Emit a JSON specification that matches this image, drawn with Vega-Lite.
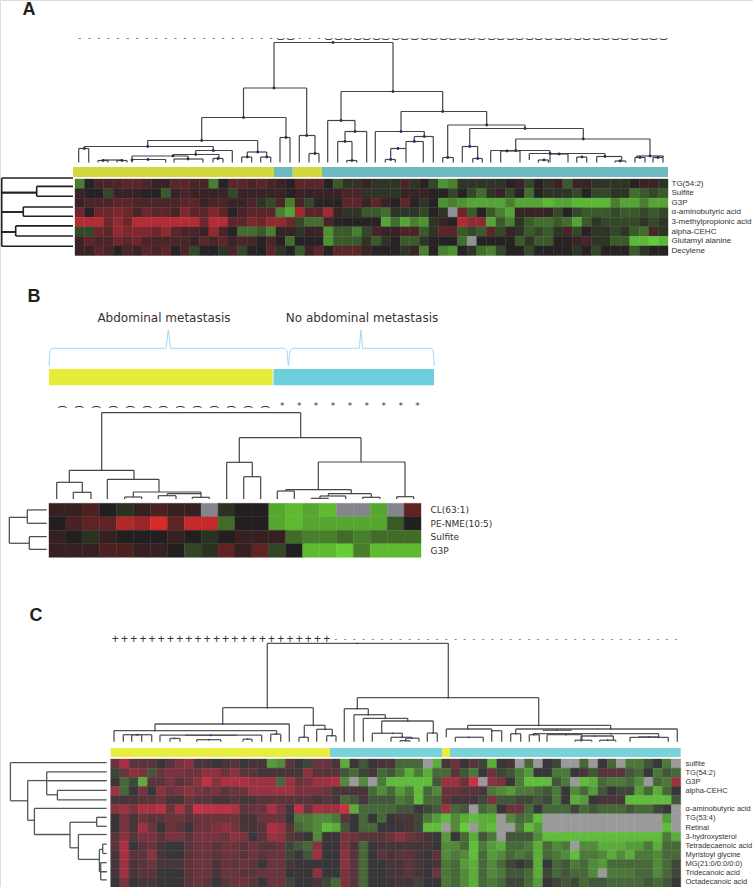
{"$schema":"https://vega.github.io/schema/vega-lite/v6.json","width":753,"height":887,"padding":0,"autosize":{"type":"none"},"background":"white","resolve":{"scale":{"x":"independent","y":"independent","color":"independent","stroke":"independent"},"axis":{"x":"independent","y":"independent"}},"layer":[
{"data":{"values":[{"t":"A","p":-46,"h":153}]},"mark":{"type":"text","font":"Liberation Sans","fontWeight":"bold","fontSize":18,"baseline":"middle","color":"#231f20"},"encoding":{"text":{"field":"t"},"x":{"field":"p","type":"quantitative","scale":{"domain":[0,593],"range":[75,668]},"axis":null},"y":{"field":"h","type":"quantitative","scale":{"domain":[0,120],"range":[162.5,42.5]},"axis":null}}},
{"data":{"values":[{"t":"B","p":-15,"h":202.5}]},"mark":{"type":"text","font":"Liberation Sans","fontWeight":"bold","fontSize":18,"baseline":"middle","color":"#231f20"},"encoding":{"text":{"field":"t"},"x":{"field":"p","type":"quantitative","scale":{"domain":[0,372],"range":[49,421]},"axis":null},"y":{"field":"h","type":"quantitative","scale":{"domain":[0,100],"range":[499,399]},"axis":null}}},
{"data":{"values":[{"t":"C","p":-74.7,"h":126.2}]},"mark":{"type":"text","font":"Liberation Sans","fontWeight":"bold","fontSize":18,"baseline":"middle","color":"#231f20"},"encoding":{"text":{"field":"t"},"x":{"field":"p","type":"quantitative","scale":{"domain":[0,570],"range":[110.7,680.7]},"axis":null},"y":{"field":"h","type":"quantitative","scale":{"domain":[0,100],"range":[741.7,641.7]},"axis":null}}},
{"data":{"values":[{"a":0,"b":201,"g":"y"},{"a":201,"b":219.7,"g":"t"},{"a":219.7,"b":249,"g":"y"},{"a":249,"b":595,"g":"t"}]},"mark":"rect","encoding":{"x":{"field":"a","type":"quantitative","scale":{"domain":[0,595],"range":[73,668]},"axis":null},"x2":{"field":"b"},"y":{"datum":0,"type":"quantitative","scale":{"domain":[0,1],"range":[177,167]},"axis":null},"y2":{"datum":1},"color":{"field":"g","scale":{"domain":["y","t"],"range":["#d2d840","#6fb9c2"]},"legend":null}}},
{"data":{"values":[{"a":0,"b":223.7,"g":"y"},{"a":224.5,"b":385,"g":"t"}]},"mark":"rect","encoding":{"x":{"field":"a","type":"quantitative","scale":{"domain":[0,385],"range":[49,434]},"axis":null},"x2":{"field":"b"},"y":{"datum":0,"type":"quantitative","scale":{"domain":[0,1],"range":[385.3,369]},"axis":null},"y2":{"datum":1},"color":{"field":"g","scale":{"domain":["y","t"],"range":["#e6ec37","#6ecfdc"]},"legend":null}}},
{"data":{"values":[{"a":0,"b":219.3,"g":"y"},{"a":219.3,"b":331.3,"g":"t"},{"a":331.3,"b":339.3,"g":"y"},{"a":339.3,"b":570,"g":"t"}]},"mark":"rect","encoding":{"x":{"field":"a","type":"quantitative","scale":{"domain":[0,570],"range":[110.7,680.7]},"axis":null},"x2":{"field":"b"},"y":{"datum":0,"type":"quantitative","scale":{"domain":[0,1],"range":[757,748]},"axis":null},"y2":{"datum":1},"color":{"field":"g","scale":{"domain":["y","t"],"range":["#e8ee40","#78d4da"]},"legend":null}}},
{"data":{"values":[{"b":"a","x":0,"y":3},{"b":"a","x":1,"y":18},{"b":"a","x":2.7,"y":20.7},{"b":"a","x":117,"y":20.7},{"b":"a","x":119.3,"y":39},{"b":"a","x":121.7,"y":20.7},{"b":"a","x":236,"y":20.7},{"b":"a","x":238,"y":18},{"b":"a","x":239.3,"y":3},{"b":"b","x":239.3,"y":3},{"b":"b","x":241,"y":18},{"b":"b","x":243,"y":20.7},{"b":"b","x":310.3,"y":20.7},{"b":"b","x":312,"y":39},{"b":"b","x":313.7,"y":20.7},{"b":"b","x":382.7,"y":20.7},{"b":"b","x":384.3,"y":18},{"b":"b","x":385.3,"y":3}]},"mark":{"type":"line","stroke":"#a9d6f2","strokeWidth":1},"encoding":{"x":{"field":"x","type":"quantitative","scale":{"domain":[0,385],"range":[49,434]},"axis":null},"y":{"field":"y","type":"quantitative","scale":{"domain":[0,60],"range":[369,309]},"axis":null},"detail":{"field":"b"}}},
{"data":{"values":[{"t":"Abdominal metastasis","x":115,"y":51},{"t":"No abdominal metastasis","x":313,"y":51}]},"mark":{"type":"text","font":"DejaVu Sans","fontSize":12,"baseline":"middle","color":"#333333"},"encoding":{"text":{"field":"t"},"x":{"field":"x","type":"quantitative","scale":{"domain":[0,385],"range":[49,434]},"axis":null},"y":{"field":"y","type":"quantitative","scale":{"domain":[0,60],"range":[369,309]},"axis":null}}},
{"data":{"values":[{"l":199,"r":318,"h":120,"hl":74.5,"hr":71,"m":258},{"l":168.5,"r":231.7,"h":74.5,"hl":45,"hr":27,"m":199},{"l":126.7,"r":211,"h":45,"hl":22,"hr":25,"m":168.5},{"l":72.7,"r":182.7,"h":22,"hl":16,"hr":10.5,"m":126.7},{"l":9.3,"r":138.3,"h":16,"hl":14,"hr":12,"m":72.7},{"l":3.7,"r":13.7,"h":14,"hl":0,"hr":0,"m":9.3},{"l":120.7,"r":157.3,"h":12,"hl":8,"hr":0,"m":138.3},{"l":98.3,"r":144,"h":8,"hl":6.5,"hr":4,"m":120.7},{"l":57,"r":113,"h":6.5,"hl":3,"hr":3.5,"m":98},{"l":23,"r":33,"h":2,"hl":0,"hr":0,"m":28},{"l":42,"r":52,"h":2,"hl":0,"hr":0,"m":47},{"l":28,"r":47,"h":2.5,"hl":2,"hr":2,"m":57},{"l":57,"r":90.7,"h":3,"hl":0,"hr":0,"m":73},{"l":99,"r":128,"h":3.5,"hl":0,"hr":0,"m":113},{"l":138,"r":148,"h":4,"hl":0,"hr":0,"m":143},{"l":172.3,"r":191.7,"h":10.5,"hl":5.5,"hr":5.5,"m":182.7},{"l":166.7,"r":176.7,"h":5.5,"hl":0,"hr":0,"m":172.3},{"l":185.7,"r":195.7,"h":5.5,"hl":0,"hr":0,"m":191.7},{"l":205,"r":215,"h":25,"hl":0,"hr":0,"m":211},{"l":224.3,"r":240,"h":27,"hl":0,"hr":9,"m":231.7},{"l":234,"r":244,"h":9,"hl":0,"hr":0,"m":240},{"l":266,"r":367.7,"h":71,"hl":42,"hr":51,"m":318},{"l":252.7,"r":280,"h":42,"hl":0,"hr":31,"m":266},{"l":270,"r":291.7,"h":31,"hl":21,"hr":0,"m":280},{"l":262.7,"r":277,"h":21,"hl":0,"hr":2,"m":270},{"l":271.7,"r":281.7,"h":2,"hl":0,"hr":0,"m":277},{"l":326,"r":411.7,"h":51,"hl":31,"hr":37.5,"m":367.7},{"l":300.3,"r":349.3,"h":31,"hl":0,"hr":26,"m":326},{"l":339.3,"r":358.3,"h":26,"hl":21,"hr":0,"m":349.3},{"l":331,"r":348.3,"h":21,"hl":14,"hr":0,"m":339.3},{"l":315.7,"r":331,"h":14,"hl":3,"hr":0,"m":323},{"l":310.3,"r":320.3,"h":3,"hl":0,"hr":0,"m":315.7},{"l":372.7,"r":450,"h":37.5,"hl":5,"hr":34,"m":411.7},{"l":367.7,"r":378.3,"h":5,"hl":0,"hr":0,"m":372.7},{"l":394.7,"r":508.3,"h":34,"hl":16,"hr":23.5,"m":450},{"l":387.3,"r":402.7,"h":16,"hl":0,"hr":4,"m":394.7},{"l":397.7,"r":407.3,"h":4,"hl":0,"hr":0,"m":402.7},{"l":440.7,"r":575,"h":23.5,"hl":12,"hr":6.5,"m":508.3},{"l":415.7,"r":475,"h":12,"hl":0,"hr":9,"m":440.7},{"l":454.3,"r":530,"h":9,"hl":2.5,"hr":6,"m":475},{"l":463.3,"r":473.3,"h":2.5,"hl":0,"hr":0,"m":469},{"l":475,"r":493,"h":8.5,"hl":0,"hr":0,"m":484},{"l":501.7,"r":511.7,"h":5.5,"hl":0,"hr":0,"m":507},{"l":521.7,"r":546.7,"h":6,"hl":0,"hr":1.5,"m":530},{"l":540,"r":550.7,"h":1.5,"hl":0,"hr":0,"m":545},{"l":561.7,"r":588.3,"h":6.5,"hl":5,"hr":5,"m":575},{"l":560,"r":570,"h":5,"hl":0,"hr":0,"m":565},{"l":578,"r":588,"h":5,"hl":0,"hr":0,"m":583},{"l":425.7,"r":445,"h":11.5,"hl":0,"hr":0,"m":432}]},"layer":[
{"mark":{"type":"rule","stroke":"#444444","strokeWidth":1.2},"encoding":{"x":{"field":"l","type":"quantitative","scale":{"domain":[0,593],"range":[75,668],"nice":false},"axis":null},"x2":{"field":"r"},"y":{"field":"h","type":"quantitative","scale":{"domain":[0,120],"range":[162.5,42.5],"nice":false},"axis":null}}},
{"mark":{"type":"rule","stroke":"#444444","strokeWidth":1.2},"encoding":{"x":{"field":"l","type":"quantitative","axis":null},"y":{"field":"h","type":"quantitative","axis":null},"y2":{"field":"hl"}}},
{"mark":{"type":"rule","stroke":"#444444","strokeWidth":1.2},"encoding":{"x":{"field":"r","type":"quantitative","axis":null},"y":{"field":"h","type":"quantitative","axis":null},"y2":{"field":"hr"}}},
{"mark":{"type":"circle","size":8,"color":"#2a2a70","opacity":1},"encoding":{"x":{"field":"m","type":"quantitative","axis":null},"y":{"field":"h","type":"quantitative","axis":null}}}]},
{"data":{"values":[{"c":0,"t":"-"},{"c":1,"t":"-"},{"c":2,"t":"-"},{"c":3,"t":"-"},{"c":4,"t":"-"},{"c":5,"t":"-"},{"c":6,"t":"-"},{"c":7,"t":"-"},{"c":8,"t":"-"},{"c":9,"t":"-"},{"c":10,"t":"-"},{"c":11,"t":"-"},{"c":12,"t":"-"},{"c":13,"t":"-"},{"c":14,"t":"-"},{"c":15,"t":"-"},{"c":16,"t":"-"},{"c":17,"t":"-"},{"c":18,"t":"-"},{"c":19,"t":"-"},{"c":20,"t":"-"},{"c":21,"t":"⌣"},{"c":22,"t":"⌣"},{"c":23,"t":"-"},{"c":24,"t":"-"},{"c":25,"t":"-"},{"c":26,"t":"⌣"},{"c":27,"t":"⌣"},{"c":28,"t":"⌣"},{"c":29,"t":"⌣"},{"c":30,"t":"⌣"},{"c":31,"t":"⌣"},{"c":32,"t":"⌣"},{"c":33,"t":"⌣"},{"c":34,"t":"⌣"},{"c":35,"t":"⌣"},{"c":36,"t":"⌣"},{"c":37,"t":"⌣"},{"c":38,"t":"⌣"},{"c":39,"t":"⌣"},{"c":40,"t":"⌣"},{"c":41,"t":"⌣"},{"c":42,"t":"⌣"},{"c":43,"t":"⌣"},{"c":44,"t":"⌣"},{"c":45,"t":"⌣"},{"c":46,"t":"⌣"},{"c":47,"t":"⌣"},{"c":48,"t":"⌣"},{"c":49,"t":"⌣"},{"c":50,"t":"⌣"},{"c":51,"t":"⌣"},{"c":52,"t":"⌣"},{"c":53,"t":"⌣"},{"c":54,"t":"⌣"},{"c":55,"t":"⌣"},{"c":56,"t":"⌣"},{"c":57,"t":"⌣"},{"c":58,"t":"⌣"},{"c":59,"t":"⌣"},{"c":60,"t":"⌣"},{"c":61,"t":"⌣"}]},"mark":{"type":"text","font":"DejaVu Sans","baseline":"middle","color":"#444444"},"encoding":{"text":{"field":"t"},"size":{"condition":{"test":"datum.t==='-'","value":8},"value":14},"x":{"field":"c","type":"ordinal","scale":{"type":"band","range":[75,668],"paddingInner":0,"paddingOuter":0},"axis":null},"y":{"datum":124,"type":"quantitative","scale":{"domain":[0,120],"range":[162.5,42.5]},"axis":null}}},
{"data":{"values":[{"c":0,"r":0,"v":-5},{"c":1,"r":0,"v":0},{"c":2,"r":0,"v":2},{"c":3,"r":0,"v":2},{"c":4,"r":0,"v":2},{"c":5,"r":0,"v":3},{"c":6,"r":0,"v":3},{"c":7,"r":0,"v":2},{"c":8,"r":0,"v":1},{"c":9,"r":0,"v":1},{"c":10,"r":0,"v":3},{"c":11,"r":0,"v":3},{"c":12,"r":0,"v":2},{"c":13,"r":0,"v":2},{"c":14,"r":0,"v":-5},{"c":15,"r":0,"v":0},{"c":16,"r":0,"v":3},{"c":17,"r":0,"v":3},{"c":18,"r":0,"v":2},{"c":19,"r":0,"v":3},{"c":20,"r":0,"v":2},{"c":21,"r":0,"v":1},{"c":22,"r":0,"v":0},{"c":23,"r":0,"v":3},{"c":24,"r":0,"v":3},{"c":25,"r":0,"v":3},{"c":26,"r":0,"v":0},{"c":27,"r":0,"v":-3},{"c":28,"r":0,"v":-1},{"c":29,"r":0,"v":-1},{"c":30,"r":0,"v":1},{"c":31,"r":0,"v":-1},{"c":32,"r":0,"v":-1},{"c":33,"r":0,"v":-1},{"c":34,"r":0,"v":2},{"c":35,"r":0,"v":-1},{"c":36,"r":0,"v":0},{"c":37,"r":0,"v":-2},{"c":38,"r":0,"v":-6},{"c":39,"r":0,"v":-5},{"c":40,"r":0,"v":-1},{"c":41,"r":0,"v":-1},{"c":42,"r":0,"v":-1},{"c":43,"r":0,"v":-1},{"c":44,"r":0,"v":-1},{"c":45,"r":0,"v":0},{"c":46,"r":0,"v":1},{"c":47,"r":0,"v":-2},{"c":48,"r":0,"v":0},{"c":49,"r":0,"v":-1},{"c":50,"r":0,"v":1},{"c":51,"r":0,"v":-3},{"c":52,"r":0,"v":1},{"c":53,"r":0,"v":1},{"c":54,"r":0,"v":-1},{"c":55,"r":0,"v":-1},{"c":56,"r":0,"v":-1},{"c":57,"r":0,"v":-1},{"c":58,"r":0,"v":0},{"c":59,"r":0,"v":1},{"c":60,"r":0,"v":1},{"c":61,"r":0,"v":-1},
{"c":0,"r":1,"v":1},{"c":1,"r":1,"v":0},{"c":2,"r":1,"v":0},{"c":3,"r":1,"v":-2},{"c":4,"r":1,"v":1},{"c":5,"r":1,"v":1},{"c":6,"r":1,"v":1},{"c":7,"r":1,"v":0},{"c":8,"r":1,"v":0},{"c":9,"r":1,"v":-3},{"c":10,"r":1,"v":1},{"c":11,"r":1,"v":2},{"c":12,"r":1,"v":1},{"c":13,"r":1,"v":1},{"c":14,"r":1,"v":1},{"c":15,"r":1,"v":1},{"c":16,"r":1,"v":-2},{"c":17,"r":1,"v":1},{"c":18,"r":1,"v":1},{"c":19,"r":1,"v":1},{"c":20,"r":1,"v":1},{"c":21,"r":1,"v":1},{"c":22,"r":1,"v":0},{"c":23,"r":1,"v":1},{"c":24,"r":1,"v":1},{"c":25,"r":1,"v":1},{"c":26,"r":1,"v":1},{"c":27,"r":1,"v":1},{"c":28,"r":1,"v":2},{"c":29,"r":1,"v":2},{"c":30,"r":1,"v":-1},{"c":31,"r":1,"v":-1},{"c":32,"r":1,"v":-1},{"c":33,"r":1,"v":-1},{"c":34,"r":1,"v":1},{"c":35,"r":1,"v":1},{"c":36,"r":1,"v":1},{"c":37,"r":1,"v":0},{"c":38,"r":1,"v":0},{"c":39,"r":1,"v":-2},{"c":40,"r":1,"v":0},{"c":41,"r":1,"v":-2},{"c":42,"r":1,"v":-4},{"c":43,"r":1,"v":-1},{"c":44,"r":1,"v":1},{"c":45,"r":1,"v":-2},{"c":46,"r":1,"v":0},{"c":47,"r":1,"v":-4},{"c":48,"r":1,"v":0},{"c":49,"r":1,"v":-1},{"c":50,"r":1,"v":-1},{"c":51,"r":1,"v":-1},{"c":52,"r":1,"v":-2},{"c":53,"r":1,"v":0},{"c":54,"r":1,"v":-2},{"c":55,"r":1,"v":-2},{"c":56,"r":1,"v":-1},{"c":57,"r":1,"v":-1},{"c":58,"r":1,"v":-4},{"c":59,"r":1,"v":-3},{"c":60,"r":1,"v":-2},{"c":61,"r":1,"v":-3},
{"c":0,"r":2,"v":1},{"c":1,"r":2,"v":2},{"c":2,"r":2,"v":2},{"c":3,"r":2,"v":2},{"c":4,"r":2,"v":3},{"c":5,"r":2,"v":3},{"c":6,"r":2,"v":2},{"c":7,"r":2,"v":2},{"c":8,"r":2,"v":2},{"c":9,"r":2,"v":2},{"c":10,"r":2,"v":2},{"c":11,"r":2,"v":3},{"c":12,"r":2,"v":3},{"c":13,"r":2,"v":1},{"c":14,"r":2,"v":2},{"c":15,"r":2,"v":2},{"c":16,"r":2,"v":1},{"c":17,"r":2,"v":1},{"c":18,"r":2,"v":2},{"c":19,"r":2,"v":-1},{"c":20,"r":2,"v":-2},{"c":21,"r":2,"v":2},{"c":22,"r":2,"v":-5},{"c":23,"r":2,"v":2},{"c":24,"r":2,"v":-2},{"c":25,"r":2,"v":0},{"c":26,"r":2,"v":0},{"c":27,"r":2,"v":0},{"c":28,"r":2,"v":3},{"c":29,"r":2,"v":3},{"c":30,"r":2,"v":1},{"c":31,"r":2,"v":3},{"c":32,"r":2,"v":1},{"c":33,"r":2,"v":0},{"c":34,"r":2,"v":3},{"c":35,"r":2,"v":0},{"c":36,"r":2,"v":-1},{"c":37,"r":2,"v":0},{"c":38,"r":2,"v":-6},{"c":39,"r":2,"v":-5},{"c":40,"r":2,"v":-6},{"c":41,"r":2,"v":-7},{"c":42,"r":2,"v":-7},{"c":43,"r":2,"v":-7},{"c":44,"r":2,"v":-7},{"c":45,"r":2,"v":-5},{"c":46,"r":2,"v":-7},{"c":47,"r":2,"v":-7},{"c":48,"r":2,"v":-7},{"c":49,"r":2,"v":-8},{"c":50,"r":2,"v":-7},{"c":51,"r":2,"v":-7},{"c":52,"r":2,"v":-8},{"c":53,"r":2,"v":-8},{"c":54,"r":2,"v":-8},{"c":55,"r":2,"v":-8},{"c":56,"r":2,"v":-5},{"c":57,"r":2,"v":-7},{"c":58,"r":2,"v":-7},{"c":59,"r":2,"v":-5},{"c":60,"r":2,"v":-7},{"c":61,"r":2,"v":-7},
{"c":0,"r":3,"v":4},{"c":1,"r":3,"v":0},{"c":2,"r":3,"v":4},{"c":3,"r":3,"v":4},{"c":4,"r":3,"v":5},{"c":5,"r":3,"v":4},{"c":6,"r":3,"v":2},{"c":7,"r":3,"v":4},{"c":8,"r":3,"v":3},{"c":9,"r":3,"v":3},{"c":10,"r":3,"v":2},{"c":11,"r":3,"v":5},{"c":12,"r":3,"v":3},{"c":13,"r":3,"v":3},{"c":14,"r":3,"v":5},{"c":15,"r":3,"v":3},{"c":16,"r":3,"v":0},{"c":17,"r":3,"v":2},{"c":18,"r":3,"v":3},{"c":19,"r":3,"v":3},{"c":20,"r":3,"v":3},{"c":21,"r":3,"v":-5},{"c":22,"r":3,"v":-7},{"c":23,"r":3,"v":7},{"c":24,"r":3,"v":3},{"c":25,"r":3,"v":3},{"c":26,"r":3,"v":7},{"c":27,"r":3,"v":1},{"c":28,"r":3,"v":-1},{"c":29,"r":3,"v":-1},{"c":30,"r":3,"v":-3},{"c":31,"r":3,"v":-3},{"c":32,"r":3,"v":-4},{"c":33,"r":3,"v":-1},{"c":34,"r":3,"v":-1},{"c":35,"r":3,"v":-1},{"c":36,"r":3,"v":-2},{"c":37,"r":3,"v":0},{"c":38,"r":3,"v":-1},{"c":39,"r":3,"v":null},{"c":40,"r":3,"v":4},{"c":41,"r":3,"v":-3},{"c":42,"r":3,"v":0},{"c":43,"r":3,"v":-3},{"c":44,"r":3,"v":-5},{"c":45,"r":3,"v":-7},{"c":46,"r":3,"v":1},{"c":47,"r":3,"v":1},{"c":48,"r":3,"v":1},{"c":49,"r":3,"v":1},{"c":50,"r":3,"v":-2},{"c":51,"r":3,"v":0},{"c":52,"r":3,"v":-2},{"c":53,"r":3,"v":-3},{"c":54,"r":3,"v":-3},{"c":55,"r":3,"v":-3},{"c":56,"r":3,"v":-2},{"c":57,"r":3,"v":-3},{"c":58,"r":3,"v":-3},{"c":59,"r":3,"v":-2},{"c":60,"r":3,"v":-3},{"c":61,"r":3,"v":-2},
{"c":0,"r":4,"v":8},{"c":1,"r":4,"v":8},{"c":2,"r":4,"v":8},{"c":3,"r":4,"v":4},{"c":4,"r":4,"v":6},{"c":5,"r":4,"v":4},{"c":6,"r":4,"v":8},{"c":7,"r":4,"v":8},{"c":8,"r":4,"v":8},{"c":9,"r":4,"v":8},{"c":10,"r":4,"v":8},{"c":11,"r":4,"v":8},{"c":12,"r":4,"v":8},{"c":13,"r":4,"v":4},{"c":14,"r":4,"v":8},{"c":15,"r":4,"v":8},{"c":16,"r":4,"v":3},{"c":17,"r":4,"v":3},{"c":18,"r":4,"v":5},{"c":19,"r":4,"v":4},{"c":20,"r":4,"v":6},{"c":21,"r":4,"v":6},{"c":22,"r":4,"v":4},{"c":23,"r":4,"v":-2},{"c":24,"r":4,"v":-4},{"c":25,"r":4,"v":-4},{"c":26,"r":4,"v":2},{"c":27,"r":4,"v":0},{"c":28,"r":4,"v":0},{"c":29,"r":4,"v":0},{"c":30,"r":4,"v":0},{"c":31,"r":4,"v":0},{"c":32,"r":4,"v":-7},{"c":33,"r":4,"v":-4},{"c":34,"r":4,"v":-7},{"c":35,"r":4,"v":-5},{"c":36,"r":4,"v":-6},{"c":37,"r":4,"v":-1},{"c":38,"r":4,"v":1},{"c":39,"r":4,"v":0},{"c":40,"r":4,"v":8},{"c":41,"r":4,"v":6},{"c":42,"r":4,"v":6},{"c":43,"r":4,"v":-7},{"c":44,"r":4,"v":-3},{"c":45,"r":4,"v":-5},{"c":46,"r":4,"v":-1},{"c":47,"r":4,"v":-3},{"c":48,"r":4,"v":-4},{"c":49,"r":4,"v":-4},{"c":50,"r":4,"v":-3},{"c":51,"r":4,"v":-4},{"c":52,"r":4,"v":-7},{"c":53,"r":4,"v":-3},{"c":54,"r":4,"v":-1},{"c":55,"r":4,"v":-2},{"c":56,"r":4,"v":-2},{"c":57,"r":4,"v":-2},{"c":58,"r":4,"v":-2},{"c":59,"r":4,"v":-1},{"c":60,"r":4,"v":-2},{"c":61,"r":4,"v":-1},
{"c":0,"r":5,"v":-2},{"c":1,"r":5,"v":-2},{"c":2,"r":5,"v":4},{"c":3,"r":5,"v":3},{"c":4,"r":5,"v":6},{"c":5,"r":5,"v":5},{"c":6,"r":5,"v":5},{"c":7,"r":5,"v":5},{"c":8,"r":5,"v":4},{"c":9,"r":5,"v":6},{"c":10,"r":5,"v":3},{"c":11,"r":5,"v":2},{"c":12,"r":5,"v":2},{"c":13,"r":5,"v":1},{"c":14,"r":5,"v":6},{"c":15,"r":5,"v":2},{"c":16,"r":5,"v":0},{"c":17,"r":5,"v":-4},{"c":18,"r":5,"v":-4},{"c":19,"r":5,"v":-3},{"c":20,"r":5,"v":-5},{"c":21,"r":5,"v":1},{"c":22,"r":5,"v":1},{"c":23,"r":5,"v":-1},{"c":24,"r":5,"v":1},{"c":25,"r":5,"v":1},{"c":26,"r":5,"v":-6},{"c":27,"r":5,"v":-3},{"c":28,"r":5,"v":-3},{"c":29,"r":5,"v":-5},{"c":30,"r":5,"v":-2},{"c":31,"r":5,"v":2},{"c":32,"r":5,"v":1},{"c":33,"r":5,"v":1},{"c":34,"r":5,"v":2},{"c":35,"r":5,"v":2},{"c":36,"r":5,"v":-3},{"c":37,"r":5,"v":-1},{"c":38,"r":5,"v":3},{"c":39,"r":5,"v":3},{"c":40,"r":5,"v":-3},{"c":41,"r":5,"v":-2},{"c":42,"r":5,"v":-3},{"c":43,"r":5,"v":3},{"c":44,"r":5,"v":-2},{"c":45,"r":5,"v":1},{"c":46,"r":5,"v":-1},{"c":47,"r":5,"v":-3},{"c":48,"r":5,"v":-2},{"c":49,"r":5,"v":-3},{"c":50,"r":5,"v":-1},{"c":51,"r":5,"v":2},{"c":52,"r":5,"v":-2},{"c":53,"r":5,"v":0},{"c":54,"r":5,"v":-1},{"c":55,"r":5,"v":-1},{"c":56,"r":5,"v":-2},{"c":57,"r":5,"v":-1},{"c":58,"r":5,"v":-3},{"c":59,"r":5,"v":-4},{"c":60,"r":5,"v":2},{"c":61,"r":5,"v":-1},
{"c":0,"r":6,"v":1},{"c":1,"r":6,"v":3},{"c":2,"r":6,"v":2},{"c":3,"r":6,"v":2},{"c":4,"r":6,"v":4},{"c":5,"r":6,"v":3},{"c":6,"r":6,"v":4},{"c":7,"r":6,"v":2},{"c":8,"r":6,"v":2},{"c":9,"r":6,"v":2},{"c":10,"r":6,"v":2},{"c":11,"r":6,"v":2},{"c":12,"r":6,"v":1},{"c":13,"r":6,"v":3},{"c":14,"r":6,"v":2},{"c":15,"r":6,"v":3},{"c":16,"r":6,"v":1},{"c":17,"r":6,"v":2},{"c":18,"r":6,"v":2},{"c":19,"r":6,"v":0},{"c":20,"r":6,"v":2},{"c":21,"r":6,"v":0},{"c":22,"r":6,"v":-4},{"c":23,"r":6,"v":0},{"c":24,"r":6,"v":0},{"c":25,"r":6,"v":0},{"c":26,"r":6,"v":-6},{"c":27,"r":6,"v":-3},{"c":28,"r":6,"v":-3},{"c":29,"r":6,"v":-3},{"c":30,"r":6,"v":-1},{"c":31,"r":6,"v":-3},{"c":32,"r":6,"v":-1},{"c":33,"r":6,"v":0},{"c":34,"r":6,"v":-3},{"c":35,"r":6,"v":-3},{"c":36,"r":6,"v":-1},{"c":37,"r":6,"v":0},{"c":38,"r":6,"v":0},{"c":39,"r":6,"v":0},{"c":40,"r":6,"v":-4},{"c":41,"r":6,"v":null},{"c":42,"r":6,"v":0},{"c":43,"r":6,"v":0},{"c":44,"r":6,"v":0},{"c":45,"r":6,"v":0},{"c":46,"r":6,"v":-3},{"c":47,"r":6,"v":-1},{"c":48,"r":6,"v":-3},{"c":49,"r":6,"v":-3},{"c":50,"r":6,"v":0},{"c":51,"r":6,"v":0},{"c":52,"r":6,"v":1},{"c":53,"r":6,"v":2},{"c":54,"r":6,"v":-1},{"c":55,"r":6,"v":-1},{"c":56,"r":6,"v":-3},{"c":57,"r":6,"v":-3},{"c":58,"r":6,"v":-8},{"c":59,"r":6,"v":-8},{"c":60,"r":6,"v":-9},{"c":61,"r":6,"v":-8},
{"c":0,"r":7,"v":1},{"c":1,"r":7,"v":1},{"c":2,"r":7,"v":3},{"c":3,"r":7,"v":2},{"c":4,"r":7,"v":0},{"c":5,"r":7,"v":2},{"c":6,"r":7,"v":1},{"c":7,"r":7,"v":3},{"c":8,"r":7,"v":2},{"c":9,"r":7,"v":3},{"c":10,"r":7,"v":0},{"c":11,"r":7,"v":2},{"c":12,"r":7,"v":-2},{"c":13,"r":7,"v":0},{"c":14,"r":7,"v":0},{"c":15,"r":7,"v":-1},{"c":16,"r":7,"v":2},{"c":17,"r":7,"v":-2},{"c":18,"r":7,"v":0},{"c":19,"r":7,"v":0},{"c":20,"r":7,"v":3},{"c":21,"r":7,"v":-1},{"c":22,"r":7,"v":0},{"c":23,"r":7,"v":-3},{"c":24,"r":7,"v":1},{"c":25,"r":7,"v":3},{"c":26,"r":7,"v":0},{"c":27,"r":7,"v":3},{"c":28,"r":7,"v":3},{"c":29,"r":7,"v":3},{"c":30,"r":7,"v":1},{"c":31,"r":7,"v":0},{"c":32,"r":7,"v":0},{"c":33,"r":7,"v":0},{"c":34,"r":7,"v":-1},{"c":35,"r":7,"v":1},{"c":36,"r":7,"v":-5},{"c":37,"r":7,"v":0},{"c":38,"r":7,"v":-5},{"c":39,"r":7,"v":-6},{"c":40,"r":7,"v":0},{"c":41,"r":7,"v":-1},{"c":42,"r":7,"v":-4},{"c":43,"r":7,"v":-5},{"c":44,"r":7,"v":-2},{"c":45,"r":7,"v":0},{"c":46,"r":7,"v":0},{"c":47,"r":7,"v":-2},{"c":48,"r":7,"v":0},{"c":49,"r":7,"v":0},{"c":50,"r":7,"v":0},{"c":51,"r":7,"v":0},{"c":52,"r":7,"v":-1},{"c":53,"r":7,"v":0},{"c":54,"r":7,"v":-2},{"c":55,"r":7,"v":0},{"c":56,"r":7,"v":0},{"c":57,"r":7,"v":0},{"c":58,"r":7,"v":-3},{"c":59,"r":7,"v":-1},{"c":60,"r":7,"v":0},{"c":61,"r":7,"v":0}]},"mark":{"type":"rect","invalid":"show","strokeWidth":0.4},"encoding":{"x":{"field":"c","type":"ordinal","scale":{"type":"band","range":[75,668],"paddingInner":0,"paddingOuter":0},"axis":null},"y":{"field":"r","type":"ordinal","scale":{"type":"band","range":[179,255.5],"paddingInner":0,"paddingOuter":0},"axis":{"orient":"right","offset":-85,"title":null,"domain":false,"ticks":false,"labelPadding":3,"labelFont":"Liberation Sans","labelFontSize":8,"labelColor":"#333333","labelExpr":"['TG(54:2)','Sulfite','G3P','α-aminobutyric acid','3-methylpropionic acid','alpha-CEHC','Glutamyl alanine','Decylene'][datum.value]"}},"color":{"condition":{"test":"datum.v===null","value":"#909296"},"field":"v","type":"quantitative","scale":{"domain":[-9,0,9],"range":["#63c93c","#272324","#c42c36"],"interpolate":"rgb"},"legend":null},"stroke":{"condition":{"test":"datum.v===null","value":"#909296"},"field":"v","type":"quantitative","scale":{"domain":[-9,0,9],"range":["#63c93c","#272324","#c42c36"],"interpolate":"rgb"},"legend":null}}},
{"data":{"values":[{"d":73.3,"a":-0.1,"b":7.04,"da":2,"db":2},{"d":38.3,"a":0.77,"b":1.8,"da":2,"db":2},{"d":73.3,"a":1.43,"b":1.43,"da":38.3,"db":38.3},{"d":51.7,"a":2.93,"b":3.9,"da":2,"db":2},{"d":73.3,"a":3.45,"b":3.45,"da":51.7,"db":51.7},{"d":59.3,"a":4.9,"b":5.96,"da":2,"db":2},{"d":73.3,"a":5.54,"b":5.54,"da":59.3,"db":59.3}]},"layer":[
{"mark":{"type":"rule","stroke":"#231f20","strokeWidth":1.6},"encoding":{"x":{"field":"d","type":"quantitative","scale":{"domain":[0,75],"range":[75,0],"nice":false},"axis":null},"y":{"field":"a","type":"quantitative","scale":{"domain":[0,8],"range":[179,255.5],"nice":false},"axis":null},"y2":{"field":"b"}}},
{"mark":{"type":"rule","stroke":"#231f20","strokeWidth":1.6},"encoding":{"x":{"field":"d","type":"quantitative","axis":null},"x2":{"field":"da"},"y":{"field":"a","type":"quantitative","axis":null}}},
{"mark":{"type":"rule","stroke":"#231f20","strokeWidth":1.6},"encoding":{"x":{"field":"d","type":"quantitative","axis":null},"x2":{"field":"db"},"y":{"field":"b","type":"quantitative","axis":null}}}]},
{"data":{"values":[{"l":52.7,"r":251.7,"h":86.3,"hl":28.7,"hr":61.3},{"l":20.3,"r":85,"h":28.7,"hl":16.7,"hr":19.7},{"l":7.7,"r":33.3,"h":16.7,"hl":0,"hr":6.7},{"l":24.3,"r":42,"h":6.7,"hl":0,"hr":0},{"l":58.3,"r":110,"h":19.7,"hl":0,"hr":7},{"l":84.3,"r":152,"h":7,"hl":2,"hr":5.3},{"l":75.7,"r":92.7,"h":2,"hl":0,"hr":0},{"l":118.3,"r":152,"h":5.3,"hl":3.3,"hr":1.7},{"l":109.3,"r":127,"h":3.3,"hl":0,"hr":0},{"l":143.3,"r":160.3,"h":1.7,"hl":0,"hr":0},{"l":190.3,"r":312,"h":61.3,"hl":36.7,"hr":37},{"l":177.7,"r":203.3,"h":36.7,"hl":0,"hr":22.3},{"l":194.7,"r":211.7,"h":22.3,"hl":0,"hr":0},{"l":269.3,"r":356,"h":37,"hl":9.3,"hr":2.3},{"l":236.7,"r":302.3,"h":9.3,"hl":8,"hr":5.3},{"l":228.3,"r":245.3,"h":8,"hl":0,"hr":0},{"l":279.3,"r":322.3,"h":5.3,"hl":3,"hr":1.7},{"l":271,"r":296.7,"h":3,"hl":0.7,"hr":0},{"l":262.3,"r":279.3,"h":0.7,"hl":0,"hr":0},{"l":313.7,"r":331,"h":1.7,"hl":0,"hr":0},{"l":347.7,"r":364.7,"h":2.3,"hl":0,"hr":0}]},"layer":[
{"mark":{"type":"rule","stroke":"#444444","strokeWidth":1.2},"encoding":{"x":{"field":"l","type":"quantitative","scale":{"domain":[0,372],"range":[49,421],"nice":false},"axis":null},"x2":{"field":"r"},"y":{"field":"h","type":"quantitative","scale":{"domain":[0,100],"range":[499,399],"nice":false},"axis":null}}},
{"mark":{"type":"rule","stroke":"#444444","strokeWidth":1.2},"encoding":{"x":{"field":"l","type":"quantitative","axis":null},"y":{"field":"h","type":"quantitative","axis":null},"y2":{"field":"hl"}}},
{"mark":{"type":"rule","stroke":"#444444","strokeWidth":1.2},"encoding":{"x":{"field":"r","type":"quantitative","axis":null},"y":{"field":"h","type":"quantitative","axis":null},"y2":{"field":"hr"}}}]},
{"data":{"values":[{"c":0,"t":"⌢"},{"c":1,"t":"⌢"},{"c":2,"t":"⌢"},{"c":3,"t":"⌢"},{"c":4,"t":"⌢"},{"c":5,"t":"⌢"},{"c":6,"t":"⌢"},{"c":7,"t":"⌢"},{"c":8,"t":"⌢"},{"c":9,"t":"⌢"},{"c":10,"t":"⌢"},{"c":11,"t":"⌢"},{"c":12,"t":"⌢"},{"c":13,"t":"*"},{"c":14,"t":"*"},{"c":15,"t":"*"},{"c":16,"t":"*"},{"c":17,"t":"*"},{"c":18,"t":"*"},{"c":19,"t":"*"},{"c":20,"t":"*"},{"c":21,"t":"*"}]},"mark":{"type":"text","font":"DejaVu Sans","dx":5,"baseline":"middle","color":"#333333"},"encoding":{"text":{"field":"t"},"size":{"condition":{"test":"datum.t==='*'","value":9},"value":16},"x":{"field":"c","type":"ordinal","scale":{"type":"band","range":[49,421],"paddingInner":0,"paddingOuter":0},"axis":null},"y":{"datum":93,"type":"quantitative","scale":{"domain":[0,100],"range":[499,399]},"axis":null}}},
{"data":{"values":[{"c":0,"r":0,"v":1},{"c":1,"r":0,"v":1},{"c":2,"r":0,"v":2},{"c":3,"r":0,"v":0},{"c":4,"r":0,"v":-1},{"c":5,"r":0,"v":1},{"c":6,"r":0,"v":2},{"c":7,"r":0,"v":1},{"c":8,"r":0,"v":1},{"c":9,"r":0,"v":null},{"c":10,"r":0,"v":-1},{"c":11,"r":0,"v":0},{"c":12,"r":0,"v":0},{"c":13,"r":0,"v":-7},{"c":14,"r":0,"v":-8},{"c":15,"r":0,"v":-7},{"c":16,"r":0,"v":-8},{"c":17,"r":0,"v":null},{"c":18,"r":0,"v":null},{"c":19,"r":0,"v":-7},{"c":20,"r":0,"v":null},{"c":21,"r":0,"v":3},{"c":0,"r":1,"v":0},{"c":1,"r":1,"v":2},{"c":2,"r":1,"v":3},{"c":3,"r":1,"v":3},{"c":4,"r":1,"v":7},{"c":5,"r":1,"v":6},{"c":6,"r":1,"v":9},{"c":7,"r":1,"v":3},{"c":8,"r":1,"v":8},{"c":9,"r":1,"v":8},{"c":10,"r":1,"v":-4},{"c":11,"r":1,"v":0},{"c":12,"r":1,"v":0},{"c":13,"r":1,"v":-7},{"c":14,"r":1,"v":-8},{"c":15,"r":1,"v":-7},{"c":16,"r":1,"v":-7},{"c":17,"r":1,"v":-7},{"c":18,"r":1,"v":-7},{"c":19,"r":1,"v":-7},{"c":20,"r":1,"v":-3},{"c":21,"r":1,"v":0},{"c":0,"r":2,"v":1},{"c":1,"r":2,"v":0},{"c":2,"r":2,"v":-1},{"c":3,"r":2,"v":1},{"c":4,"r":2,"v":0},{"c":5,"r":2,"v":0},{"c":6,"r":2,"v":0},{"c":7,"r":2,"v":1},{"c":8,"r":2,"v":0},{"c":9,"r":2,"v":-1},{"c":10,"r":2,"v":0},{"c":11,"r":2,"v":1},{"c":12,"r":2,"v":1},{"c":13,"r":2,"v":1},{"c":14,"r":2,"v":-4},{"c":15,"r":2,"v":-5},{"c":16,"r":2,"v":-5},{"c":17,"r":2,"v":-4},{"c":18,"r":2,"v":-5},{"c":19,"r":2,"v":-4},{"c":20,"r":2,"v":-4},{"c":21,"r":2,"v":-4},{"c":0,"r":3,"v":1},{"c":1,"r":3,"v":1},{"c":2,"r":3,"v":1},{"c":3,"r":3,"v":2},{"c":4,"r":3,"v":2},{"c":5,"r":3,"v":1},{"c":6,"r":3,"v":1},{"c":7,"r":3,"v":0},{"c":8,"r":3,"v":-2},{"c":9,"r":3,"v":-1},{"c":10,"r":3,"v":3},{"c":11,"r":3,"v":1},{"c":12,"r":3,"v":3},{"c":13,"r":3,"v":-2},{"c":14,"r":3,"v":0},{"c":15,"r":3,"v":-8},{"c":16,"r":3,"v":-8},{"c":17,"r":3,"v":-9},{"c":18,"r":3,"v":-5},{"c":19,"r":3,"v":-8},{"c":20,"r":3,"v":-8},{"c":21,"r":3,"v":-8}]},"mark":{"type":"rect","invalid":"show","strokeWidth":0.4},"encoding":{"x":{"field":"c","type":"ordinal","scale":{"type":"band","range":[49,421],"paddingInner":0,"paddingOuter":0},"axis":null},"y":{"field":"r","type":"ordinal","scale":{"type":"band","range":[503.3,557.3],"paddingInner":0,"paddingOuter":0},"axis":{"orient":"right","offset":-326,"title":null,"domain":false,"ticks":false,"labelPadding":3,"labelFont":"DejaVu Sans","labelFontSize":9,"labelColor":"#333333","labelExpr":"['CL(63:1)','PE-NME(10:5)','Sulfite','G3P'][datum.value]"}},"color":{"condition":{"test":"datum.v===null","value":"#85858c"},"field":"v","type":"quantitative","scale":{"domain":[-9,0,9],"range":["#66cc33","#231f20","#d92a2a"],"interpolate":"rgb"},"legend":null},"stroke":{"condition":{"test":"datum.v===null","value":"#85858c"},"field":"v","type":"quantitative","scale":{"domain":[-9,0,9],"range":["#66cc33","#231f20","#d92a2a"],"interpolate":"rgb"},"legend":null}}},
{"data":{"values":[{"d":39.7,"a":1.04,"b":2.96,"da":21.7,"db":19.7},{"d":21.7,"a":0.49,"b":1.48,"da":2.3,"db":2.3},{"d":19.7,"a":2.47,"b":3.41,"da":2.3,"db":2.3}]},"layer":[
{"mark":{"type":"rule","stroke":"#444444","strokeWidth":1.2},"encoding":{"x":{"field":"d","type":"quantitative","scale":{"domain":[0,49],"range":[49,0],"nice":false},"axis":null},"y":{"field":"a","type":"quantitative","scale":{"domain":[0,4],"range":[503.3,557.3],"nice":false},"axis":null},"y2":{"field":"b"}}},
{"mark":{"type":"rule","stroke":"#444444","strokeWidth":1.2},"encoding":{"x":{"field":"d","type":"quantitative","axis":null},"x2":{"field":"da"},"y":{"field":"a","type":"quantitative","axis":null}}},
{"mark":{"type":"rule","stroke":"#444444","strokeWidth":1.2},"encoding":{"x":{"field":"d","type":"quantitative","axis":null},"x2":{"field":"db"},"y":{"field":"b","type":"quantitative","axis":null}}}]},
{"data":{"values":[{"l":156.6,"r":337.6,"h":98.4,"hl":34,"hr":44,"m":246.6},{"l":112,"r":202.6,"h":34,"hl":17.7,"hr":16.4,"m":156.6},{"l":44.3,"r":178.6,"h":17.7,"hl":11,"hr":0,"m":112},{"l":3.3,"r":166,"h":11,"hl":0,"hr":7.5,"m":44.3},{"l":160,"r":170,"h":7.5,"hl":0,"hr":0,"m":165},{"l":12.6,"r":41,"h":7,"hl":0,"hr":0,"m":27},{"l":49.3,"r":151,"h":6.6,"hl":0,"hr":0,"m":100},{"l":74.3,"r":126,"h":6.3,"hl":6.3,"hr":6.3,"m":100},{"l":21,"r":31,"h":7,"hl":0,"hr":0,"m":26},{"l":59.3,"r":69.3,"h":3.3,"hl":0,"hr":0,"m":64},{"l":86,"r":110,"h":2,"hl":0,"hr":0,"m":98},{"l":132.3,"r":141.3,"h":2.5,"hl":0,"hr":0,"m":137},{"l":193.6,"r":214.3,"h":16.4,"hl":4.4,"hr":12.4,"m":202.6},{"l":188.3,"r":197.6,"h":4.4,"hl":0,"hr":0,"m":193},{"l":206,"r":221.6,"h":12.4,"hl":0,"hr":6,"m":214.3},{"l":216,"r":225.3,"h":6,"hl":0,"hr":0,"m":221},{"l":246.6,"r":428,"h":44,"hl":33,"hr":16.4,"m":337.6},{"l":233.6,"r":257.6,"h":33,"hl":0,"hr":27,"m":246.6},{"l":243.3,"r":274.6,"h":27,"hl":0,"hr":23.4,"m":257.6},{"l":252.6,"r":297,"h":23.4,"hl":0,"hr":20.7,"m":274.6},{"l":271,"r":322.6,"h":20.7,"hl":8.4,"hr":8.7,"m":297},{"l":316.6,"r":326.6,"h":8.7,"hl":0,"hr":0,"m":322},{"l":261.6,"r":291.6,"h":8.4,"hl":0,"hr":4.4,"m":282},{"l":280.3,"r":301,"h":4.4,"hl":0,"hr":3.5,"m":291},{"l":295,"r":308.3,"h":3.5,"hl":1,"hr":0,"m":301},{"l":289.3,"r":299.3,"h":1,"hl":0,"hr":0,"m":295},{"l":357,"r":500,"h":16.4,"hl":12.7,"hr":12.7,"m":428},{"l":335.6,"r":381,"h":12.7,"hl":4.4,"hr":11,"m":357},{"l":344.6,"r":372.6,"h":4.4,"hl":0,"hr":0,"m":358},{"l":381,"r":391,"h":11,"hl":0,"hr":0,"m":381},{"l":405,"r":566.6,"h":12.7,"hl":8,"hr":0,"m":500},{"l":422.3,"r":548,"h":8,"hl":7,"hr":4.4,"m":500},{"l":400,"r":410,"h":8,"hl":0,"hr":0,"m":405},{"l":418.6,"r":428.6,"h":7,"hl":0,"hr":0,"m":423},{"l":436.3,"r":471.3,"h":7,"hl":0,"hr":1.5,"m":455},{"l":464.3,"r":481,"h":1.5,"hl":0,"hr":0,"m":471},{"l":470.3,"r":502.6,"h":5.7,"hl":0,"hr":1.5,"m":484},{"l":489,"r":505,"h":1.5,"hl":0,"hr":0,"m":497},{"l":519.3,"r":557.6,"h":4.4,"hl":0,"hr":0,"m":548},{"l":432,"r":461,"h":11.5,"hl":11.5,"hr":11.5,"m":446},{"l":527.6,"r":548,"h":4.8,"hl":4.8,"hr":4.8,"m":538}]},"layer":[
{"mark":{"type":"rule","stroke":"#555555","strokeWidth":1.3},"encoding":{"x":{"field":"l","type":"quantitative","scale":{"domain":[0,570],"range":[110.7,680.7],"nice":false},"axis":null},"x2":{"field":"r"},"y":{"field":"h","type":"quantitative","scale":{"domain":[0,100],"range":[741.7,641.7],"nice":false},"axis":null}}},
{"mark":{"type":"rule","stroke":"#555555","strokeWidth":1.3},"encoding":{"x":{"field":"l","type":"quantitative","axis":null},"y":{"field":"h","type":"quantitative","axis":null},"y2":{"field":"hl"}}},
{"mark":{"type":"rule","stroke":"#555555","strokeWidth":1.3},"encoding":{"x":{"field":"r","type":"quantitative","axis":null},"y":{"field":"h","type":"quantitative","axis":null},"y2":{"field":"hr"}}},
{"mark":{"type":"circle","size":3,"color":"#3a3a9a","opacity":1},"encoding":{"x":{"field":"m","type":"quantitative","axis":null},"y":{"field":"h","type":"quantitative","axis":null}}}]},
{"data":{"values":[{"c":0,"t":"+"},{"c":1,"t":"+"},{"c":2,"t":"+"},{"c":3,"t":"+"},{"c":4,"t":"+"},{"c":5,"t":"+"},{"c":6,"t":"+"},{"c":7,"t":"+"},{"c":8,"t":"+"},{"c":9,"t":"+"},{"c":10,"t":"+"},{"c":11,"t":"+"},{"c":12,"t":"+"},{"c":13,"t":"+"},{"c":14,"t":"+"},{"c":15,"t":"+"},{"c":16,"t":"+"},{"c":17,"t":"+"},{"c":18,"t":"+"},{"c":19,"t":"+"},{"c":20,"t":"+"},{"c":21,"t":"+"},{"c":22,"t":"+"},{"c":23,"t":"+"},{"c":24,"t":"-"},{"c":25,"t":"-"},{"c":26,"t":"-"},{"c":27,"t":"-"},{"c":28,"t":"-"},{"c":29,"t":"-"},{"c":30,"t":"-"},{"c":31,"t":"-"},{"c":32,"t":"-"},{"c":33,"t":"-"},{"c":34,"t":"-"},{"c":35,"t":"-"},{"c":36,"t":"-"},{"c":37,"t":"-"},{"c":38,"t":"-"},{"c":39,"t":"-"},{"c":40,"t":"-"},{"c":41,"t":"-"},{"c":42,"t":"-"},{"c":43,"t":"-"},{"c":44,"t":"-"},{"c":45,"t":"-"},{"c":46,"t":"-"},{"c":47,"t":"-"},{"c":48,"t":"-"},{"c":49,"t":"-"},{"c":50,"t":"-"},{"c":51,"t":"-"},{"c":52,"t":"-"},{"c":53,"t":"-"},{"c":54,"t":"-"},{"c":55,"t":"-"},{"c":56,"t":"-"},{"c":57,"t":"-"},{"c":58,"t":"-"},{"c":59,"t":"-"},{"c":60,"t":"-"},{"c":61,"t":"-"}]},"mark":{"type":"text","font":"Liberation Sans","baseline":"middle","color":"#333333"},"encoding":{"text":{"field":"t"},"size":{"condition":{"test":"datum.t==='+'","value":12},"value":8},"x":{"field":"c","type":"ordinal","scale":{"type":"band","range":[110.7,680.7],"paddingInner":0,"paddingOuter":0},"axis":null},"y":{"datum":103,"type":"quantitative","scale":{"domain":[0,100],"range":[741.7,641.7]},"axis":null}}},
{"data":{"values":[{"c":0,"r":0,"v":3},{"c":1,"r":0,"v":7},{"c":2,"r":0,"v":2},{"c":3,"r":0,"v":2},{"c":4,"r":0,"v":2},{"c":5,"r":0,"v":0},{"c":6,"r":0,"v":2},{"c":7,"r":0,"v":4},{"c":8,"r":0,"v":5},{"c":9,"r":0,"v":1},{"c":10,"r":0,"v":1},{"c":11,"r":0,"v":0},{"c":12,"r":0,"v":1},{"c":13,"r":0,"v":2},{"c":14,"r":0,"v":0},{"c":15,"r":0,"v":1},{"c":16,"r":0,"v":1},{"c":17,"r":0,"v":-6},{"c":18,"r":0,"v":-5},{"c":19,"r":0,"v":2},{"c":20,"r":0,"v":0},{"c":21,"r":0,"v":-1},{"c":22,"r":0,"v":3},{"c":23,"r":0,"v":3},{"c":24,"r":0,"v":1},{"c":25,"r":0,"v":-7},{"c":26,"r":0,"v":0},{"c":27,"r":0,"v":-2},{"c":28,"r":0,"v":0},{"c":29,"r":0,"v":1},{"c":30,"r":0,"v":1},{"c":31,"r":0,"v":-3},{"c":32,"r":0,"v":-3},{"c":33,"r":0,"v":-3},{"c":34,"r":0,"v":null},{"c":35,"r":0,"v":-7},{"c":36,"r":0,"v":1},{"c":37,"r":0,"v":3},{"c":38,"r":0,"v":0},{"c":39,"r":0,"v":2},{"c":40,"r":0,"v":-1},{"c":41,"r":0,"v":-7},{"c":42,"r":0,"v":0},{"c":43,"r":0,"v":1},{"c":44,"r":0,"v":null},{"c":45,"r":0,"v":-3},{"c":46,"r":0,"v":null},{"c":47,"r":0,"v":0},{"c":48,"r":0,"v":-1},{"c":49,"r":0,"v":null},{"c":50,"r":0,"v":null},{"c":51,"r":0,"v":-3},{"c":52,"r":0,"v":null},{"c":53,"r":0,"v":0},{"c":54,"r":0,"v":-3},{"c":55,"r":0,"v":null},{"c":56,"r":0,"v":-4},{"c":57,"r":0,"v":-4},{"c":58,"r":0,"v":-2},{"c":59,"r":0,"v":0},{"c":60,"r":0,"v":-4},{"c":61,"r":0,"v":null},
{"c":0,"r":1,"v":-1},{"c":1,"r":1,"v":3},{"c":2,"r":1,"v":5},{"c":3,"r":1,"v":4},{"c":4,"r":1,"v":-2},{"c":5,"r":1,"v":3},{"c":6,"r":1,"v":4},{"c":7,"r":1,"v":4},{"c":8,"r":1,"v":3},{"c":9,"r":1,"v":3},{"c":10,"r":1,"v":5},{"c":11,"r":1,"v":5},{"c":12,"r":1,"v":3},{"c":13,"r":1,"v":5},{"c":14,"r":1,"v":2},{"c":15,"r":1,"v":2},{"c":16,"r":1,"v":1},{"c":17,"r":1,"v":1},{"c":18,"r":1,"v":1},{"c":19,"r":1,"v":1},{"c":20,"r":1,"v":1},{"c":21,"r":1,"v":5},{"c":22,"r":1,"v":2},{"c":23,"r":1,"v":2},{"c":24,"r":1,"v":2},{"c":25,"r":1,"v":-2},{"c":26,"r":1,"v":-3},{"c":27,"r":1,"v":-1},{"c":28,"r":1,"v":1},{"c":29,"r":1,"v":-3},{"c":30,"r":1,"v":-2},{"c":31,"r":1,"v":-4},{"c":32,"r":1,"v":-7},{"c":33,"r":1,"v":-4},{"c":34,"r":1,"v":-7},{"c":35,"r":1,"v":-3},{"c":36,"r":1,"v":-3},{"c":37,"r":1,"v":2},{"c":38,"r":1,"v":-2},{"c":39,"r":1,"v":-4},{"c":40,"r":1,"v":0},{"c":41,"r":1,"v":3},{"c":42,"r":1,"v":-1},{"c":43,"r":1,"v":-2},{"c":44,"r":1,"v":-4},{"c":45,"r":1,"v":-6},{"c":46,"r":1,"v":0},{"c":47,"r":1,"v":0},{"c":48,"r":1,"v":-4},{"c":49,"r":1,"v":-4},{"c":50,"r":1,"v":0},{"c":51,"r":1,"v":1},{"c":52,"r":1,"v":-2},{"c":53,"r":1,"v":2},{"c":54,"r":1,"v":2},{"c":55,"r":1,"v":2},{"c":56,"r":1,"v":-2},{"c":57,"r":1,"v":-3},{"c":58,"r":1,"v":0},{"c":59,"r":1,"v":-4},{"c":60,"r":1,"v":-2},{"c":61,"r":1,"v":-3},
{"c":0,"r":2,"v":0},{"c":1,"r":2,"v":-3},{"c":2,"r":2,"v":-1},{"c":3,"r":2,"v":-7},{"c":4,"r":2,"v":2},{"c":5,"r":2,"v":2},{"c":6,"r":2,"v":4},{"c":7,"r":2,"v":2},{"c":8,"r":2,"v":3},{"c":9,"r":2,"v":5},{"c":10,"r":2,"v":8},{"c":11,"r":2,"v":5},{"c":12,"r":2,"v":7},{"c":13,"r":2,"v":7},{"c":14,"r":2,"v":7},{"c":15,"r":2,"v":6},{"c":16,"r":2,"v":6},{"c":17,"r":2,"v":6},{"c":18,"r":2,"v":-3},{"c":19,"r":2,"v":6},{"c":20,"r":2,"v":3},{"c":21,"r":2,"v":4},{"c":22,"r":2,"v":6},{"c":23,"r":2,"v":6},{"c":24,"r":2,"v":7},{"c":25,"r":2,"v":-5},{"c":26,"r":2,"v":null},{"c":27,"r":2,"v":-5},{"c":28,"r":2,"v":null},{"c":29,"r":2,"v":-4},{"c":30,"r":2,"v":-8},{"c":31,"r":2,"v":-8},{"c":32,"r":2,"v":-8},{"c":33,"r":2,"v":-8},{"c":34,"r":2,"v":-8},{"c":35,"r":2,"v":-2},{"c":36,"r":2,"v":6},{"c":37,"r":2,"v":6},{"c":38,"r":2,"v":3},{"c":39,"r":2,"v":9},{"c":40,"r":2,"v":null},{"c":41,"r":2,"v":5},{"c":42,"r":2,"v":4},{"c":43,"r":2,"v":0},{"c":44,"r":2,"v":-4},{"c":45,"r":2,"v":-8},{"c":46,"r":2,"v":-8},{"c":47,"r":2,"v":-8},{"c":48,"r":2,"v":-2},{"c":49,"r":2,"v":-4},{"c":50,"r":2,"v":null},{"c":51,"r":2,"v":-8},{"c":52,"r":2,"v":-7},{"c":53,"r":2,"v":-3},{"c":54,"r":2,"v":-4},{"c":55,"r":2,"v":-4},{"c":56,"r":2,"v":-3},{"c":57,"r":2,"v":-5},{"c":58,"r":2,"v":null},{"c":59,"r":2,"v":-3},{"c":60,"r":2,"v":-4},{"c":61,"r":2,"v":6},
{"c":0,"r":3,"v":6},{"c":1,"r":3,"v":-3},{"c":2,"r":3,"v":0},{"c":3,"r":3,"v":4},{"c":4,"r":3,"v":0},{"c":5,"r":3,"v":5},{"c":6,"r":3,"v":3},{"c":7,"r":3,"v":4},{"c":8,"r":3,"v":5},{"c":9,"r":3,"v":4},{"c":10,"r":3,"v":3},{"c":11,"r":3,"v":4},{"c":12,"r":3,"v":2},{"c":13,"r":3,"v":3},{"c":14,"r":3,"v":3},{"c":15,"r":3,"v":6},{"c":16,"r":3,"v":6},{"c":17,"r":3,"v":6},{"c":18,"r":3,"v":6},{"c":19,"r":3,"v":6},{"c":20,"r":3,"v":4},{"c":21,"r":3,"v":4},{"c":22,"r":3,"v":4},{"c":23,"r":3,"v":3},{"c":24,"r":3,"v":1},{"c":25,"r":3,"v":1},{"c":26,"r":3,"v":1},{"c":27,"r":3,"v":1},{"c":28,"r":3,"v":-3},{"c":29,"r":3,"v":-5},{"c":30,"r":3,"v":-3},{"c":31,"r":3,"v":-6},{"c":32,"r":3,"v":-4},{"c":33,"r":3,"v":-8},{"c":34,"r":3,"v":-3},{"c":35,"r":3,"v":-5},{"c":36,"r":3,"v":3},{"c":37,"r":3,"v":3},{"c":38,"r":3,"v":2},{"c":39,"r":3,"v":2},{"c":40,"r":3,"v":1},{"c":41,"r":3,"v":-4},{"c":42,"r":3,"v":-5},{"c":43,"r":3,"v":-6},{"c":44,"r":3,"v":-4},{"c":45,"r":3,"v":-4},{"c":46,"r":3,"v":-3},{"c":47,"r":3,"v":-2},{"c":48,"r":3,"v":-4},{"c":49,"r":3,"v":0},{"c":50,"r":3,"v":-5},{"c":51,"r":3,"v":-3},{"c":52,"r":3,"v":-6},{"c":53,"r":3,"v":-2},{"c":54,"r":3,"v":0},{"c":55,"r":3,"v":-1},{"c":56,"r":3,"v":-1},{"c":57,"r":3,"v":-6},{"c":58,"r":3,"v":-3},{"c":59,"r":3,"v":-7},{"c":60,"r":3,"v":-3},{"c":61,"r":3,"v":0},
{"c":0,"r":4,"v":1},{"c":1,"r":4,"v":1},{"c":2,"r":4,"v":1},{"c":3,"r":4,"v":2},{"c":4,"r":4,"v":2},{"c":5,"r":4,"v":3},{"c":6,"r":4,"v":1},{"c":7,"r":4,"v":1},{"c":8,"r":4,"v":3},{"c":9,"r":4,"v":2},{"c":10,"r":4,"v":2},{"c":11,"r":4,"v":1},{"c":12,"r":4,"v":1},{"c":13,"r":4,"v":2},{"c":14,"r":4,"v":1},{"c":15,"r":4,"v":1},{"c":16,"r":4,"v":2},{"c":17,"r":4,"v":2},{"c":18,"r":4,"v":2},{"c":19,"r":4,"v":2},{"c":20,"r":4,"v":2},{"c":21,"r":4,"v":2},{"c":22,"r":4,"v":1},{"c":23,"r":4,"v":2},{"c":24,"r":4,"v":1},{"c":25,"r":4,"v":-3},{"c":26,"r":4,"v":-2},{"c":27,"r":4,"v":1},{"c":28,"r":4,"v":-2},{"c":29,"r":4,"v":-2},{"c":30,"r":4,"v":-2},{"c":31,"r":4,"v":-4},{"c":32,"r":4,"v":-3},{"c":33,"r":4,"v":-8},{"c":34,"r":4,"v":-3},{"c":35,"r":4,"v":-3},{"c":36,"r":4,"v":2},{"c":37,"r":4,"v":1},{"c":38,"r":4,"v":1},{"c":39,"r":4,"v":1},{"c":40,"r":4,"v":-1},{"c":41,"r":4,"v":4},{"c":42,"r":4,"v":-2},{"c":43,"r":4,"v":-2},{"c":44,"r":4,"v":-1},{"c":45,"r":4,"v":-1},{"c":46,"r":4,"v":-2},{"c":47,"r":4,"v":-1},{"c":48,"r":4,"v":-4},{"c":49,"r":4,"v":0},{"c":50,"r":4,"v":-7},{"c":51,"r":4,"v":-6},{"c":52,"r":4,"v":0},{"c":53,"r":4,"v":1},{"c":54,"r":4,"v":1},{"c":55,"r":4,"v":1},{"c":56,"r":4,"v":-8},{"c":57,"r":4,"v":-8},{"c":58,"r":4,"v":-8},{"c":59,"r":4,"v":-8},{"c":60,"r":4,"v":-8},{"c":61,"r":4,"v":-2},
{"c":0,"r":5,"v":5},{"c":1,"r":5,"v":6},{"c":2,"r":5,"v":4},{"c":3,"r":5,"v":7},{"c":4,"r":5,"v":7},{"c":5,"r":5,"v":8},{"c":6,"r":5,"v":3},{"c":7,"r":5,"v":7},{"c":8,"r":5,"v":3},{"c":9,"r":5,"v":9},{"c":10,"r":5,"v":8},{"c":11,"r":5,"v":8},{"c":12,"r":5,"v":8},{"c":13,"r":5,"v":7},{"c":14,"r":5,"v":2},{"c":15,"r":5,"v":3},{"c":16,"r":5,"v":3},{"c":17,"r":5,"v":7},{"c":18,"r":5,"v":4},{"c":19,"r":5,"v":1},{"c":20,"r":5,"v":8},{"c":21,"r":5,"v":3},{"c":22,"r":5,"v":7},{"c":23,"r":5,"v":6},{"c":24,"r":5,"v":6},{"c":25,"r":5,"v":9},{"c":26,"r":5,"v":-7},{"c":27,"r":5,"v":-3},{"c":28,"r":5,"v":-3},{"c":29,"r":5,"v":-3},{"c":30,"r":5,"v":-3},{"c":31,"r":5,"v":-2},{"c":32,"r":5,"v":-2},{"c":33,"r":5,"v":0},{"c":34,"r":5,"v":-1},{"c":35,"r":5,"v":-2},{"c":36,"r":5,"v":6},{"c":37,"r":5,"v":-3},{"c":38,"r":5,"v":-2},{"c":39,"r":5,"v":null},{"c":40,"r":5,"v":-3},{"c":41,"r":5,"v":-4},{"c":42,"r":5,"v":0},{"c":43,"r":5,"v":3},{"c":44,"r":5,"v":3},{"c":45,"r":5,"v":-3},{"c":46,"r":5,"v":0},{"c":47,"r":5,"v":-3},{"c":48,"r":5,"v":-3},{"c":49,"r":5,"v":-3},{"c":50,"r":5,"v":-1},{"c":51,"r":5,"v":-3},{"c":52,"r":5,"v":-2},{"c":53,"r":5,"v":-3},{"c":54,"r":5,"v":-3},{"c":55,"r":5,"v":-3},{"c":56,"r":5,"v":-2},{"c":57,"r":5,"v":-3},{"c":58,"r":5,"v":-3},{"c":59,"r":5,"v":-1},{"c":60,"r":5,"v":0},{"c":61,"r":5,"v":null},
{"c":0,"r":6,"v":0},{"c":1,"r":6,"v":4},{"c":2,"r":6,"v":1},{"c":3,"r":6,"v":3},{"c":4,"r":6,"v":2},{"c":5,"r":6,"v":2},{"c":6,"r":6,"v":3},{"c":7,"r":6,"v":3},{"c":8,"r":6,"v":2},{"c":9,"r":6,"v":3},{"c":10,"r":6,"v":3},{"c":11,"r":6,"v":3},{"c":12,"r":6,"v":3},{"c":13,"r":6,"v":3},{"c":14,"r":6,"v":1},{"c":15,"r":6,"v":1},{"c":16,"r":6,"v":3},{"c":17,"r":6,"v":3},{"c":18,"r":6,"v":3},{"c":19,"r":6,"v":0},{"c":20,"r":6,"v":-4},{"c":21,"r":6,"v":-4},{"c":22,"r":6,"v":-5},{"c":23,"r":6,"v":-5},{"c":24,"r":6,"v":-4},{"c":25,"r":6,"v":2},{"c":26,"r":6,"v":0},{"c":27,"r":6,"v":-3},{"c":28,"r":6,"v":0},{"c":29,"r":6,"v":-3},{"c":30,"r":6,"v":0},{"c":31,"r":6,"v":1},{"c":32,"r":6,"v":1},{"c":33,"r":6,"v":-1},{"c":34,"r":6,"v":-4},{"c":35,"r":6,"v":-6},{"c":36,"r":6,"v":-8},{"c":37,"r":6,"v":-5},{"c":38,"r":6,"v":-7},{"c":39,"r":6,"v":-8},{"c":40,"r":6,"v":-7},{"c":41,"r":6,"v":-7},{"c":42,"r":6,"v":null},{"c":43,"r":6,"v":-5},{"c":44,"r":6,"v":-3},{"c":45,"r":6,"v":-4},{"c":46,"r":6,"v":-8},{"c":47,"r":6,"v":null},{"c":48,"r":6,"v":null},{"c":49,"r":6,"v":null},{"c":50,"r":6,"v":null},{"c":51,"r":6,"v":null},{"c":52,"r":6,"v":null},{"c":53,"r":6,"v":null},{"c":54,"r":6,"v":null},{"c":55,"r":6,"v":null},{"c":56,"r":6,"v":null},{"c":57,"r":6,"v":null},{"c":58,"r":6,"v":null},{"c":59,"r":6,"v":null},{"c":60,"r":6,"v":-6},{"c":61,"r":6,"v":null},
{"c":0,"r":7,"v":0},{"c":1,"r":7,"v":4},{"c":2,"r":7,"v":1},{"c":3,"r":7,"v":6},{"c":4,"r":7,"v":3},{"c":5,"r":7,"v":0},{"c":6,"r":7,"v":3},{"c":7,"r":7,"v":2},{"c":8,"r":7,"v":0},{"c":9,"r":7,"v":3},{"c":10,"r":7,"v":3},{"c":11,"r":7,"v":4},{"c":12,"r":7,"v":5},{"c":13,"r":7,"v":4},{"c":14,"r":7,"v":1},{"c":15,"r":7,"v":1},{"c":16,"r":7,"v":2},{"c":17,"r":7,"v":7},{"c":18,"r":7,"v":6},{"c":19,"r":7,"v":2},{"c":20,"r":7,"v":-3},{"c":21,"r":7,"v":-4},{"c":22,"r":7,"v":-5},{"c":23,"r":7,"v":-8},{"c":24,"r":7,"v":-7},{"c":25,"r":7,"v":-2},{"c":26,"r":7,"v":0},{"c":27,"r":7,"v":-3},{"c":28,"r":7,"v":-3},{"c":29,"r":7,"v":0},{"c":30,"r":7,"v":0},{"c":31,"r":7,"v":0},{"c":32,"r":7,"v":1},{"c":33,"r":7,"v":-1},{"c":34,"r":7,"v":-8},{"c":35,"r":7,"v":-8},{"c":36,"r":7,"v":null},{"c":37,"r":7,"v":-5},{"c":38,"r":7,"v":-9},{"c":39,"r":7,"v":null},{"c":40,"r":7,"v":-7},{"c":41,"r":7,"v":-8},{"c":42,"r":7,"v":null},{"c":43,"r":7,"v":null},{"c":44,"r":7,"v":-4},{"c":45,"r":7,"v":-8},{"c":46,"r":7,"v":-6},{"c":47,"r":7,"v":null},{"c":48,"r":7,"v":null},{"c":49,"r":7,"v":null},{"c":50,"r":7,"v":null},{"c":51,"r":7,"v":null},{"c":52,"r":7,"v":null},{"c":53,"r":7,"v":null},{"c":54,"r":7,"v":null},{"c":55,"r":7,"v":null},{"c":56,"r":7,"v":null},{"c":57,"r":7,"v":null},{"c":58,"r":7,"v":null},{"c":59,"r":7,"v":null},{"c":60,"r":7,"v":-8},{"c":61,"r":7,"v":null},
{"c":0,"r":8,"v":2},{"c":1,"r":8,"v":5},{"c":2,"r":8,"v":2},{"c":3,"r":8,"v":4},{"c":4,"r":8,"v":4},{"c":5,"r":8,"v":2},{"c":6,"r":8,"v":4},{"c":7,"r":8,"v":4},{"c":8,"r":8,"v":2},{"c":9,"r":8,"v":4},{"c":10,"r":8,"v":4},{"c":11,"r":8,"v":4},{"c":12,"r":8,"v":3},{"c":13,"r":8,"v":5},{"c":14,"r":8,"v":4},{"c":15,"r":8,"v":0},{"c":16,"r":8,"v":2},{"c":17,"r":8,"v":6},{"c":18,"r":8,"v":5},{"c":19,"r":8,"v":2},{"c":20,"r":8,"v":1},{"c":21,"r":8,"v":0},{"c":22,"r":8,"v":-5},{"c":23,"r":8,"v":0},{"c":24,"r":8,"v":0},{"c":25,"r":8,"v":4},{"c":26,"r":8,"v":3},{"c":27,"r":8,"v":2},{"c":28,"r":8,"v":2},{"c":29,"r":8,"v":2},{"c":30,"r":8,"v":3},{"c":31,"r":8,"v":5},{"c":32,"r":8,"v":3},{"c":33,"r":8,"v":2},{"c":34,"r":8,"v":1},{"c":35,"r":8,"v":0},{"c":36,"r":8,"v":-6},{"c":37,"r":8,"v":0},{"c":38,"r":8,"v":-3},{"c":39,"r":8,"v":-7},{"c":40,"r":8,"v":-2},{"c":41,"r":8,"v":-4},{"c":42,"r":8,"v":null},{"c":43,"r":8,"v":-2},{"c":44,"r":8,"v":-2},{"c":45,"r":8,"v":-2},{"c":46,"r":8,"v":-5},{"c":47,"r":8,"v":-8},{"c":48,"r":8,"v":-8},{"c":49,"r":8,"v":-8},{"c":50,"r":8,"v":-8},{"c":51,"r":8,"v":-8},{"c":52,"r":8,"v":-8},{"c":53,"r":8,"v":-8},{"c":54,"r":8,"v":-8},{"c":55,"r":8,"v":-8},{"c":56,"r":8,"v":-8},{"c":57,"r":8,"v":-8},{"c":58,"r":8,"v":-8},{"c":59,"r":8,"v":-8},{"c":60,"r":8,"v":-4},{"c":61,"r":8,"v":-7},
{"c":0,"r":9,"v":2},{"c":1,"r":9,"v":7},{"c":2,"r":9,"v":0},{"c":3,"r":9,"v":2},{"c":4,"r":9,"v":3},{"c":5,"r":9,"v":1},{"c":6,"r":9,"v":0},{"c":7,"r":9,"v":0},{"c":8,"r":9,"v":2},{"c":9,"r":9,"v":3},{"c":10,"r":9,"v":3},{"c":11,"r":9,"v":2},{"c":12,"r":9,"v":3},{"c":13,"r":9,"v":3},{"c":14,"r":9,"v":2},{"c":15,"r":9,"v":3},{"c":16,"r":9,"v":2},{"c":17,"r":9,"v":2},{"c":18,"r":9,"v":3},{"c":19,"r":9,"v":-1},{"c":20,"r":9,"v":-2},{"c":21,"r":9,"v":-3},{"c":22,"r":9,"v":5},{"c":23,"r":9,"v":0},{"c":24,"r":9,"v":0},{"c":25,"r":9,"v":4},{"c":26,"r":9,"v":1},{"c":27,"r":9,"v":-3},{"c":28,"r":9,"v":0},{"c":29,"r":9,"v":1},{"c":30,"r":9,"v":1},{"c":31,"r":9,"v":1},{"c":32,"r":9,"v":1},{"c":33,"r":9,"v":1},{"c":34,"r":9,"v":1},{"c":35,"r":9,"v":0},{"c":36,"r":9,"v":-5},{"c":37,"r":9,"v":-5},{"c":38,"r":9,"v":-3},{"c":39,"r":9,"v":-8},{"c":40,"r":9,"v":-4},{"c":41,"r":9,"v":-6},{"c":42,"r":9,"v":-7},{"c":43,"r":9,"v":-3},{"c":44,"r":9,"v":-3},{"c":45,"r":9,"v":-4},{"c":46,"r":9,"v":-7},{"c":47,"r":9,"v":-3},{"c":48,"r":9,"v":-5},{"c":49,"r":9,"v":-4},{"c":50,"r":9,"v":null},{"c":51,"r":9,"v":-5},{"c":52,"r":9,"v":-5},{"c":53,"r":9,"v":-7},{"c":54,"r":9,"v":-7},{"c":55,"r":9,"v":-7},{"c":56,"r":9,"v":-6},{"c":57,"r":9,"v":-6},{"c":58,"r":9,"v":-4},{"c":59,"r":9,"v":-7},{"c":60,"r":9,"v":-3},{"c":61,"r":9,"v":-3},
{"c":0,"r":10,"v":1},{"c":1,"r":10,"v":7},{"c":2,"r":10,"v":2},{"c":3,"r":10,"v":2},{"c":4,"r":10,"v":5},{"c":5,"r":10,"v":1},{"c":6,"r":10,"v":0},{"c":7,"r":10,"v":0},{"c":8,"r":10,"v":2},{"c":9,"r":10,"v":3},{"c":10,"r":10,"v":3},{"c":11,"r":10,"v":2},{"c":12,"r":10,"v":3},{"c":13,"r":10,"v":3},{"c":14,"r":10,"v":2},{"c":15,"r":10,"v":3},{"c":16,"r":10,"v":2},{"c":17,"r":10,"v":3},{"c":18,"r":10,"v":3},{"c":19,"r":10,"v":-1},{"c":20,"r":10,"v":0},{"c":21,"r":10,"v":-2},{"c":22,"r":10,"v":6},{"c":23,"r":10,"v":0},{"c":24,"r":10,"v":0},{"c":25,"r":10,"v":5},{"c":26,"r":10,"v":2},{"c":27,"r":10,"v":-3},{"c":28,"r":10,"v":0},{"c":29,"r":10,"v":2},{"c":30,"r":10,"v":1},{"c":31,"r":10,"v":2},{"c":32,"r":10,"v":2},{"c":33,"r":10,"v":1},{"c":34,"r":10,"v":0},{"c":35,"r":10,"v":2},{"c":36,"r":10,"v":-5},{"c":37,"r":10,"v":-4},{"c":38,"r":10,"v":-5},{"c":39,"r":10,"v":-8},{"c":40,"r":10,"v":-3},{"c":41,"r":10,"v":-6},{"c":42,"r":10,"v":-5},{"c":43,"r":10,"v":-3},{"c":44,"r":10,"v":-4},{"c":45,"r":10,"v":-3},{"c":46,"r":10,"v":-7},{"c":47,"r":10,"v":-3},{"c":48,"r":10,"v":-4},{"c":49,"r":10,"v":-5},{"c":50,"r":10,"v":-8},{"c":51,"r":10,"v":-4},{"c":52,"r":10,"v":-4},{"c":53,"r":10,"v":-5},{"c":54,"r":10,"v":-7},{"c":55,"r":10,"v":-5},{"c":56,"r":10,"v":-7},{"c":57,"r":10,"v":-4},{"c":58,"r":10,"v":-4},{"c":59,"r":10,"v":-5},{"c":60,"r":10,"v":-3},{"c":61,"r":10,"v":-3},
{"c":0,"r":11,"v":1},{"c":1,"r":11,"v":6},{"c":2,"r":11,"v":1},{"c":3,"r":11,"v":2},{"c":4,"r":11,"v":3},{"c":5,"r":11,"v":1},{"c":6,"r":11,"v":1},{"c":7,"r":11,"v":1},{"c":8,"r":11,"v":2},{"c":9,"r":11,"v":3},{"c":10,"r":11,"v":3},{"c":11,"r":11,"v":1},{"c":12,"r":11,"v":3},{"c":13,"r":11,"v":2},{"c":14,"r":11,"v":3},{"c":15,"r":11,"v":2},{"c":16,"r":11,"v":0},{"c":17,"r":11,"v":3},{"c":18,"r":11,"v":3},{"c":19,"r":11,"v":1},{"c":20,"r":11,"v":0},{"c":21,"r":11,"v":0},{"c":22,"r":11,"v":0},{"c":23,"r":11,"v":0},{"c":24,"r":11,"v":0},{"c":25,"r":11,"v":5},{"c":26,"r":11,"v":2},{"c":27,"r":11,"v":-3},{"c":28,"r":11,"v":0},{"c":29,"r":11,"v":0},{"c":30,"r":11,"v":1},{"c":31,"r":11,"v":1},{"c":32,"r":11,"v":2},{"c":33,"r":11,"v":1},{"c":34,"r":11,"v":0},{"c":35,"r":11,"v":1},{"c":36,"r":11,"v":-4},{"c":37,"r":11,"v":-3},{"c":38,"r":11,"v":-6},{"c":39,"r":11,"v":-7},{"c":40,"r":11,"v":-3},{"c":41,"r":11,"v":-5},{"c":42,"r":11,"v":-3},{"c":43,"r":11,"v":-1},{"c":44,"r":11,"v":0},{"c":45,"r":11,"v":-1},{"c":46,"r":11,"v":-7},{"c":47,"r":11,"v":0},{"c":48,"r":11,"v":-3},{"c":49,"r":11,"v":-2},{"c":50,"r":11,"v":-4},{"c":51,"r":11,"v":-3},{"c":52,"r":11,"v":-5},{"c":53,"r":11,"v":-6},{"c":54,"r":11,"v":-3},{"c":55,"r":11,"v":-3},{"c":56,"r":11,"v":-3},{"c":57,"r":11,"v":-3},{"c":58,"r":11,"v":-3},{"c":59,"r":11,"v":-5},{"c":60,"r":11,"v":-3},{"c":61,"r":11,"v":-1},
{"c":0,"r":12,"v":1},{"c":1,"r":12,"v":6},{"c":2,"r":12,"v":1},{"c":3,"r":12,"v":2},{"c":4,"r":12,"v":2},{"c":5,"r":12,"v":0},{"c":6,"r":12,"v":0},{"c":7,"r":12,"v":0},{"c":8,"r":12,"v":2},{"c":9,"r":12,"v":3},{"c":10,"r":12,"v":3},{"c":11,"r":12,"v":1},{"c":12,"r":12,"v":3},{"c":13,"r":12,"v":3},{"c":14,"r":12,"v":2},{"c":15,"r":12,"v":2},{"c":16,"r":12,"v":3},{"c":17,"r":12,"v":3},{"c":18,"r":12,"v":3},{"c":19,"r":12,"v":0},{"c":20,"r":12,"v":0},{"c":21,"r":12,"v":0},{"c":22,"r":12,"v":5},{"c":23,"r":12,"v":0},{"c":24,"r":12,"v":0},{"c":25,"r":12,"v":4},{"c":26,"r":12,"v":2},{"c":27,"r":12,"v":-3},{"c":28,"r":12,"v":0},{"c":29,"r":12,"v":0},{"c":30,"r":12,"v":1},{"c":31,"r":12,"v":1},{"c":32,"r":12,"v":2},{"c":33,"r":12,"v":1},{"c":34,"r":12,"v":0},{"c":35,"r":12,"v":3},{"c":36,"r":12,"v":-4},{"c":37,"r":12,"v":-3},{"c":38,"r":12,"v":-5},{"c":39,"r":12,"v":-7},{"c":40,"r":12,"v":-3},{"c":41,"r":12,"v":-5},{"c":42,"r":12,"v":-4},{"c":43,"r":12,"v":-2},{"c":44,"r":12,"v":-2},{"c":45,"r":12,"v":-3},{"c":46,"r":12,"v":-7},{"c":47,"r":12,"v":-1},{"c":48,"r":12,"v":-3},{"c":49,"r":12,"v":-2},{"c":50,"r":12,"v":-3},{"c":51,"r":12,"v":-3},{"c":52,"r":12,"v":-5},{"c":53,"r":12,"v":null},{"c":54,"r":12,"v":-4},{"c":55,"r":12,"v":-4},{"c":56,"r":12,"v":-4},{"c":57,"r":12,"v":-3},{"c":58,"r":12,"v":-3},{"c":59,"r":12,"v":-5},{"c":60,"r":12,"v":-3},{"c":61,"r":12,"v":-1},
{"c":0,"r":13,"v":0},{"c":1,"r":13,"v":4},{"c":2,"r":13,"v":0},{"c":3,"r":13,"v":1},{"c":4,"r":13,"v":1},{"c":5,"r":13,"v":0},{"c":6,"r":13,"v":0},{"c":7,"r":13,"v":0},{"c":8,"r":13,"v":2},{"c":9,"r":13,"v":3},{"c":10,"r":13,"v":2},{"c":11,"r":13,"v":0},{"c":12,"r":13,"v":2},{"c":13,"r":13,"v":3},{"c":14,"r":13,"v":3},{"c":15,"r":13,"v":2},{"c":16,"r":13,"v":0},{"c":17,"r":13,"v":3},{"c":18,"r":13,"v":3},{"c":19,"r":13,"v":-1},{"c":20,"r":13,"v":0},{"c":21,"r":13,"v":0},{"c":22,"r":13,"v":1},{"c":23,"r":13,"v":-1},{"c":24,"r":13,"v":-3},{"c":25,"r":13,"v":4},{"c":26,"r":13,"v":2},{"c":27,"r":13,"v":-3},{"c":28,"r":13,"v":0},{"c":29,"r":13,"v":0},{"c":30,"r":13,"v":0},{"c":31,"r":13,"v":1},{"c":32,"r":13,"v":1},{"c":33,"r":13,"v":-1},{"c":34,"r":13,"v":0},{"c":35,"r":13,"v":0},{"c":36,"r":13,"v":-4},{"c":37,"r":13,"v":-3},{"c":38,"r":13,"v":-5},{"c":39,"r":13,"v":-7},{"c":40,"r":13,"v":-3},{"c":41,"r":13,"v":-4},{"c":42,"r":13,"v":-3},{"c":43,"r":13,"v":-1},{"c":44,"r":13,"v":-1},{"c":45,"r":13,"v":-3},{"c":46,"r":13,"v":-6},{"c":47,"r":13,"v":0},{"c":48,"r":13,"v":-1},{"c":49,"r":13,"v":-2},{"c":50,"r":13,"v":-1},{"c":51,"r":13,"v":-3},{"c":52,"r":13,"v":-2},{"c":53,"r":13,"v":-2},{"c":54,"r":13,"v":-3},{"c":55,"r":13,"v":-3},{"c":56,"r":13,"v":-3},{"c":57,"r":13,"v":-3},{"c":58,"r":13,"v":-2},{"c":59,"r":13,"v":-3},{"c":60,"r":13,"v":-2},{"c":61,"r":13,"v":0}]},"mark":{"type":"rect","invalid":"show","strokeWidth":0.4},"encoding":{"x":{"field":"c","type":"ordinal","scale":{"type":"band","range":[110.7,680.7],"paddingInner":0,"paddingOuter":0},"axis":null},"y":{"field":"r","type":"ordinal","scale":{"type":"band","range":[759,887],"paddingInner":0,"paddingOuter":0},"axis":{"orient":"right","offset":-71,"title":null,"domain":false,"ticks":false,"labelPadding":3,"labelFont":"Liberation Sans","labelFontSize":7.5,"labelColor":"#333333","labelExpr":"['sulfite','TG(54:2)','G3P','alpha-CEHC','','α-aminobutyric acid','TG(53:4)','Retinal','3-hydroxysterol','Tetradecaenoic acid','Myristoyl glycine','MG(21:0/0:0/0:0)','Tridecanoic acid','Octadecanoic acid'][datum.value]"}},"color":{"condition":{"test":"datum.v===null","value":"#9a9a9c"},"field":"v","type":"quantitative","scale":{"domain":[-9,0,9],"range":["#66cc3c","#383638","#cc3045"],"interpolate":"rgb"},"legend":null},"stroke":{"condition":{"test":"datum.v===null","value":"#9a9a9c"},"field":"v","type":"quantitative","scale":{"domain":[-9,0,9],"range":["#66cc3c","#383638","#cc3045"],"interpolate":"rgb"},"legend":null}}},
{"data":{"values":[{"d":100.3,"a":0.4,"b":4.57,"da":4,"db":83},{"d":83,"a":2.36,"b":6.7,"da":64,"db":76.3},{"d":64,"a":1.41,"b":3.91,"da":4,"db":53.3},{"d":64,"a":2.36,"b":2.36,"da":4,"db":4},{"d":53.3,"a":3.44,"b":4.46,"da":4,"db":4},{"d":76.3,"a":5.4,"b":8.26,"da":4,"db":40.7},{"d":40.7,"a":6.92,"b":9.71,"da":14,"db":32.3},{"d":14,"a":6.38,"b":7.36,"da":4,"db":4},{"d":32.3,"a":8.26,"b":10.98,"da":4,"db":11.3},{"d":11.3,"a":9.89,"b":12.32,"da":8,"db":10},{"d":8,"a":9.31,"b":10.33,"da":4,"db":4},{"d":10,"a":11.34,"b":13.22,"da":4,"db":4},{"d":10,"a":12.32,"b":12.32,"da":4,"db":4}]},"layer":[
{"mark":{"type":"rule","stroke":"#555555","strokeWidth":1.3},"encoding":{"x":{"field":"d","type":"quantitative","scale":{"domain":[0,110.7],"range":[110.7,0],"nice":false},"axis":null},"y":{"field":"a","type":"quantitative","scale":{"domain":[0,14],"range":[759,887],"nice":false},"axis":null},"y2":{"field":"b"}}},
{"mark":{"type":"rule","stroke":"#555555","strokeWidth":1.3},"encoding":{"x":{"field":"d","type":"quantitative","axis":null},"x2":{"field":"da"},"y":{"field":"a","type":"quantitative","axis":null}}},
{"mark":{"type":"rule","stroke":"#555555","strokeWidth":1.3},"encoding":{"x":{"field":"d","type":"quantitative","axis":null},"x2":{"field":"db"},"y":{"field":"b","type":"quantitative","axis":null}}}]}
]}
